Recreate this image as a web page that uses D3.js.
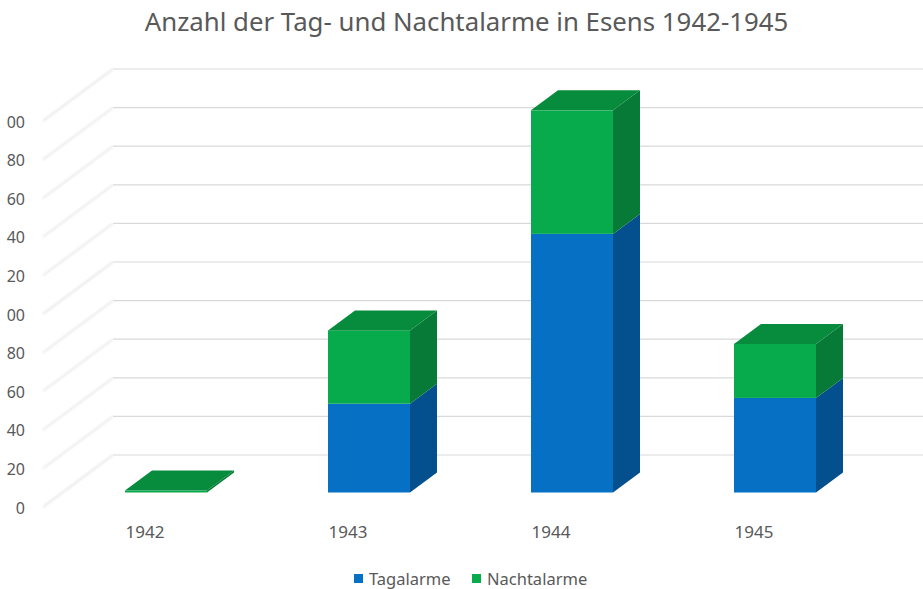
<!DOCTYPE html>
<html>
<head>
<meta charset="utf-8">
<script src="https://cdn.jsdelivr.net/npm/d3@7"></script>
<style>
  html, body { margin: 0; padding: 0; background: #fff; }
  svg { display: block; }
  text { font-family: "Noto Sans", sans-serif; fill: #595959; }
</style>
</head>
<body>
<div id="chart"></div>
<script>
const years = ["1942", "1943", "1944", "1945"];
const tagalarme = [0, 46, 134, 49];
const nachtalarme = [1, 38, 64, 28];
const seriesNames = ["Tagalarme", "Nachtalarme"];
const tickValues = [0, 20, 40, 60, 80, 100, 120, 140, 160, 180, 200];
// the labels are cut off at the left edge in the original
const tickLabels = ["0", "20", "40", "60", "80", "00", "20", "40", "60", "80", "00"];

const width = 923;
const height = 589;

// 3d offsets: wall is pushed back by wallDx/wallDy, bars have their own depth
const wallDx = 70;
const wallDy = 52;
const barDx = 27;
const barDy = 20;
const barLift = 14.5;

const colors = {
  Tagalarme: { front: "#0570c4", side: "#04508f", top: "#0560a8" },
  Nachtalarme: { front: "#08ab4c", side: "#077a38", top: "#078b3d" }
};

const svg = d3.select("#chart")
  .append("svg")
  .attr("width", width)
  .attr("height", height);

// the side wall lines are smeared in the original
const blur = svg.append("defs").append("filter")
  .attr("id", "soft");
blur.append("feGaussianBlur").attr("stdDeviation", 0.8);

const xScale = d3.scaleBand()
  .domain(years)
  .range([64.5, 876.5])
  .paddingInner(0.596)
  .paddingOuter(0.298);

const yScale = d3.scaleLinear()
  .domain([0, 200])
  .range([507, 121]);

// Title
svg.append("text")
  .attr("x", 466.5)
  .attr("y", 31)
  .attr("text-anchor", "middle")
  .style("font-size", "25.8px")
  .text("Anzahl der Tag- und Nachtalarme in Esens 1942-1945");

// Back wall gridlines and the diagonal ones on the side wall
const grid = svg.append("g");

grid.selectAll(".back")
  .data(tickValues)
  .enter().append("line")
  .attr("class", "back")
  .attr("x1", 43 + wallDx)
  .attr("x2", width)
  .attr("y1", d => yScale(d) - wallDy)
  .attr("y2", d => yScale(d) - wallDy)
  .attr("stroke", "#d9d9d9")
  .attr("stroke-width", 1.2);

grid.selectAll(".side")
  .data(tickValues)
  .enter().append("line")
  .attr("class", "side")
  .attr("x1", 43)
  .attr("x2", 43 + wallDx)
  .attr("y1", d => yScale(d))
  .attr("y2", d => yScale(d) - wallDy)
  .attr("stroke", "#e6e6e6")
  .attr("stroke-width", 1.6)
  .attr("filter", "url(#soft)");

// Y axis
const yAxis = d3.axisLeft(yScale)
  .tickValues(tickValues)
  .tickSize(0)
  .tickPadding(0)
  .tickFormat((d, i) => tickLabels[i]);

const yAxisDrawn = svg.append("g")
  .attr("transform", "translate(25,1)")
  .call(yAxis);
yAxisDrawn.select(".domain").remove();
yAxisDrawn.selectAll("text").style("font-size", "16px");

// X axis, labels sit left of the bars
const xAxis = d3.axisBottom(xScale).tickSize(0).tickPadding(0);
const xAxisDrawn = svg.append("g")
  .attr("transform", "translate(-21,526)")
  .call(xAxis);
xAxisDrawn.select(".domain").remove();
xAxisDrawn.selectAll("text").style("font-size", "17px");

// Stacked bars
const rows = years.map((y, i) => ({ year: y, Tagalarme: tagalarme[i], Nachtalarme: nachtalarme[i] }));
const stacked = d3.stack().keys(seriesNames)(rows);

const pts = arr => arr.map(p => p.join(",")).join(" ");
const yBar = v => yScale(v) - barLift;

const layers = svg.selectAll(".layer")
  .data(stacked)
  .enter().append("g")
  .attr("class", "layer");

const segments = layers.selectAll("g")
  .data(s => s.map(d => ({ key: s.key, year: d.data.year, y0: d[0], y1: d[1] })).filter(d => d.y1 > d.y0))
  .enter().append("g");

segments.append("polygon")
  .attr("fill", d => colors[d.key].side)
  .attr("points", d => {
    const x = xScale(d.year) + xScale.bandwidth();
    return pts([
      [x, yBar(d.y0)], [x + barDx, yBar(d.y0) - barDy],
      [x + barDx, yBar(d.y1) - barDy], [x, yBar(d.y1)]
    ]);
  });

segments.append("rect")
  .attr("x", d => xScale(d.year))
  .attr("y", d => yBar(d.y1))
  .attr("width", xScale.bandwidth())
  .attr("height", d => yBar(d.y0) - yBar(d.y1))
  .attr("fill", d => colors[d.key].front);

// Top face only on the top series
layers.filter(s => s.key === "Nachtalarme")
  .selectAll(".top")
  .data(s => s.map(d => ({ key: s.key, year: d.data.year, y1: d[1] })))
  .enter().append("polygon")
  .attr("class", "top")
  .attr("fill", d => colors[d.key].top)
  .attr("points", d => {
    const x = xScale(d.year);
    const w = xScale.bandwidth();
    const y = yBar(d.y1);
    return pts([[x, y], [x + barDx, y - barDy], [x + w + barDx, y - barDy], [x + w, y]]);
  });

// Legend
const legendX = d3.scaleOrdinal().domain(seriesNames).range([354, 472]);

const legend = svg.selectAll(".legend")
  .data(seriesNames)
  .enter().append("g")
  .attr("class", "legend")
  .attr("transform", d => "translate(" + legendX(d) + ",574)");

legend.append("rect")
  .attr("width", 9)
  .attr("height", 9)
  .attr("fill", d => colors[d].front);

legend.append("text")
  .attr("x", 15)
  .attr("y", 10.5)
  .style("font-size", "16.5px")
  .text(d => d);
</script>
</body>
</html>
